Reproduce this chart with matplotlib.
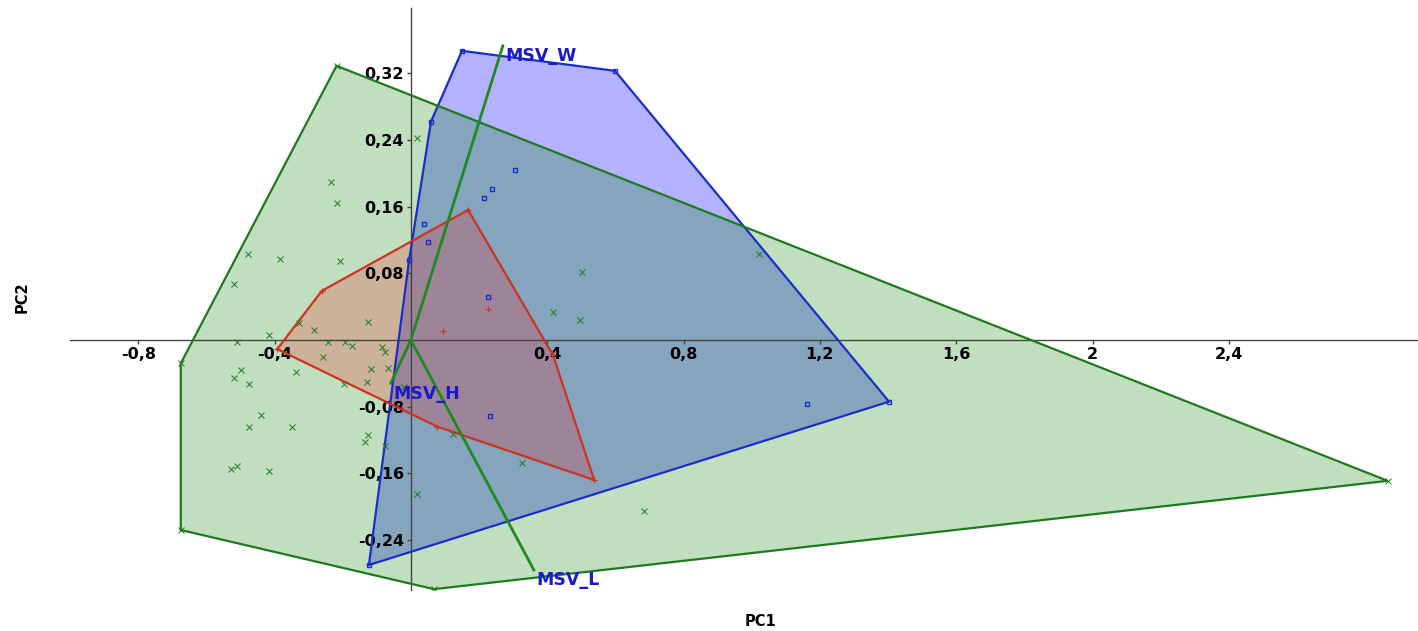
import matplotlib
matplotlib.use("Agg")
import matplotlib.pyplot as plt
import numpy as np

plt.rcParams['font.family'] = ['DejaVu Sans']

# PCA scores per group
green_pc1 = [0.018, -0.235, -0.217, -0.479, -0.384, -0.207, -0.520, -0.328, -0.284, -0.125,
             -0.416, -0.511, -0.244, -0.194, -0.172, -0.085, -0.076, -0.259, -0.499, -0.520,
             -0.474, -0.337, -0.117, -0.067, -0.196, -0.129, -0.440, -0.476, -0.350, -0.127,
             -0.135, -0.076, -0.528, -0.511, -0.416, 0.018, 0.125, 0.326, 0.685, 0.502,
             0.416, 0.496, 1.022, -0.021, -0.218, -0.675, -0.675, 0.068, 2.866]
green_pc2 = [0.242, 0.190, 0.164, 0.103, 0.097, 0.095, 0.067, 0.020, 0.012, 0.021,
             0.006, -0.002, -0.003, -0.003, -0.007, -0.008, -0.014, -0.020, -0.036, -0.046,
             -0.053, -0.039, -0.035, -0.034, -0.053, -0.050, -0.090, -0.104, -0.105, -0.114,
             -0.123, -0.127, -0.155, -0.151, -0.157, -0.185, -0.113, -0.148, -0.205, 0.082,
             0.034, 0.024, 0.103, -0.056, 0.329, -0.028, -0.228, -0.299, -0.169]

blue_pc1 = [0.150, 0.599, 1.403, -0.123, -0.005, 0.059, 0.040, 0.051, 0.216, 0.237,
            0.305, 0.227, 0.232, 1.161]
blue_pc2 = [0.347, 0.323, -0.074, -0.270, 0.096, 0.262, 0.139, 0.118, 0.170, 0.181,
            0.204, 0.051, -0.091, -0.077]

red_pc1 = [0.168, -0.261, -0.392, 0.078, 0.538, 0.417, 0.093, 0.227]
red_pc2 = [0.156, 0.059, -0.011, -0.104, -0.168, -0.018, 0.011, 0.037]

# loadings
msv_names = ['MSV_W', 'MSV_H', 'MSV_L']
msv_pc1 = [0.270, -0.059, 0.361]
msv_pc2 = [0.353, -0.052, -0.276]

xtick_vals = [-0.8, -0.4, 0.4, 0.8, 1.2, 1.6, 2.0, 2.4]
ytick_vals = [-0.24, -0.16, -0.08, 0.08, 0.16, 0.24, 0.32]


def convex_hull(xs, ys):
    pts = sorted(set(zip(xs, ys)))

    def cross(o, a, b):
        return (a[0] - o[0]) * (b[1] - o[1]) - (a[1] - o[1]) * (b[0] - o[0])

    lower, upper = [], []
    for p in pts:
        while len(lower) >= 2 and cross(lower[-2], lower[-1], p) <= 0:
            lower.pop()
        lower.append(p)
    for p in reversed(pts):
        while len(upper) >= 2 and cross(upper[-2], upper[-1], p) <= 0:
            upper.pop()
        upper.append(p)
    return np.array(lower[:-1] + upper[:-1])


def fmt(v):
    s = ('%.2f' % v).rstrip('0').rstrip('.')
    return s.replace('.', ',')


fig = plt.figure(figsize=(14.18, 6.31), dpi=100)
ax = fig.add_axes([70 / 1418, 41 / 631, 1348 / 1418, 582 / 631])
ax.set_xlim(-1.0, 2.955)
ax.set_ylim(-0.300, 0.3984)

# fill colour, alpha, outline colour, marker, marker size, marker edge width
groups = [
    (blue_pc1, blue_pc2, '#0000ff', 0.30, '#1a2fc8', 's', 3.5, 1.0),
    (green_pc1, green_pc2, '#008000', 0.25, '#1f7a1f', 'x', 4.2, 0.7),
    (red_pc1, red_pc2, '#ff0000', 0.20, '#cc3322', '+', 4.5, 0.9),
]
for xs, ys, fill, alpha, edge, mk, ms, mew in groups:
    hull = convex_hull(xs, ys)
    ax.fill(hull[:, 0], hull[:, 1], color=fill, alpha=alpha, lw=0, zorder=1)
    ax.fill(hull[:, 0], hull[:, 1], facecolor='none', edgecolor=edge, lw=1.6, zorder=3)

for xs, ys, fill, alpha, edge, mk, ms, mew in groups:
    ax.plot(xs, ys, ls='none', marker=mk, ms=ms,
            mfc='none', mec=edge, mew=mew, zorder=4)

for name, x, y in zip(msv_names, msv_pc1, msv_pc2):
    ax.plot([0, x], [0, y], color='#1f8a1f', lw=2.0, zorder=5)
    ax.annotate(name, (x, y), xytext=(2, -1), textcoords='offset points',
                ha='left', va='top', fontsize=12.5, fontweight='bold',
                color='#1a1acc', zorder=6)

for side in ['top', 'right']:
    ax.spines[side].set_visible(False)
ax.spines['left'].set_position(('data', 0))
ax.spines['bottom'].set_position(('data', 0))
for side in ['left', 'bottom']:
    ax.spines[side].set_color('#444444')
    ax.spines[side].set_linewidth(1.0)

ax.set_xticks(xtick_vals)
ax.set_xticklabels([fmt(v) for v in xtick_vals])
ax.set_yticks(ytick_vals)
ax.set_yticklabels([fmt(v) for v in ytick_vals])
ax.tick_params(direction='out', length=3, width=1, color='#444444',
               labelsize=11.5, pad=2)
for lab in ax.get_xticklabels() + ax.get_yticklabels():
    lab.set_fontweight('bold')

fig.text(760 / 1418, 1 - 622 / 631, 'PC1', ha='center', va='center',
         fontsize=10.5, fontweight='bold')
fig.text(22 / 1418, 1 - 297 / 631, 'PC2', ha='center', va='center',
         rotation=90, fontsize=10.5, fontweight='bold')

fig.savefig('out.png', dpi=100)
